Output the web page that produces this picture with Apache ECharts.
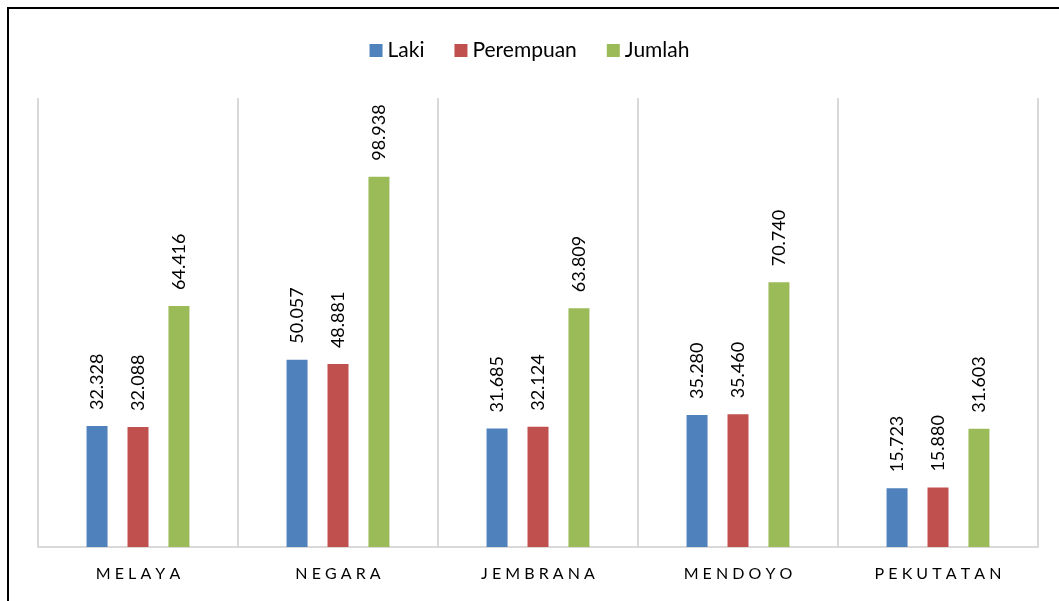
<!DOCTYPE html>
<html>
<head>
<meta charset="utf-8">
<script src="https://cdn.jsdelivr.net/npm/echarts@6/dist/echarts.min.js"></script>
<style>
  html, body { margin: 0; padding: 0; background: #fff; }
  #chart { width: 1059px; height: 601px; }
</style>
</head>
<body>
<div id="chart"></div>
<script>
// data
var kecamatan = ['MELAYA', 'NEGARA', 'JEMBRANA', 'MENDOYO', 'PEKUTATAN'];
var laki = [32.328, 50.057, 31.685, 35.280, 15.723];
var perempuan = [32.088, 48.881, 32.124, 35.460, 15.880];
var jumlah = [64.416, 98.938, 63.809, 70.740, 31.603];

var fontName = 'Lato, "Open Sans", sans-serif';

function barLabel() {
  return {
    show: true,
    position: 'top',
    rotate: 90,
    align: 'left',
    verticalAlign: 'middle',
    distance: 16,
    color: '#000',
    fontSize: 18,
    fontFamily: fontName,
    formatter: function (p) {
      return p.value.toFixed(3);
    }
  };
}

var chart = echarts.init(document.getElementById('chart'));
var option = {
  backgroundColor: '#fff',
  animation: false,
  graphic: [{
    type: 'rect',
    shape: { x: 8, y: 8, width: 1200, height: 800 },
    style: { fill: 'none', stroke: '#000', lineWidth: 2 },
    silent: true
  }],
  legend: {
    top: 35,
    left: 'center',
    itemWidth: 13,
    itemHeight: 13,
    itemGap: 30,
    icon: 'rect',
    textStyle: { color: '#000', fontSize: 21, fontFamily: fontName },
    data: ['Laki', 'Perempuan', 'Jumlah']
  },
  grid: { left: 38, top: 98, width: 1000, height: 449 },
  xAxis: {
    type: 'category',
    data: kecamatan,
    axisLine: { lineStyle: { color: '#d9d9d9', width: 2 } },
    axisTick: { show: false },
    splitLine: { show: true, lineStyle: { color: '#d9d9d9', width: 2 } },
    axisLabel: {
      color: '#000',
      fontSize: 16,
      fontFamily: fontName,
      margin: 19,
      formatter: function (v) { return v.split('').join(' '); }
    }
  },
  yAxis: {
    type: 'value',
    min: 0,
    max: 120,
    show: false
  },
  series: [
    { name: 'Laki', type: 'bar', data: laki, barWidth: 21, barGap: '95%',
      itemStyle: { color: '#4f81bd' }, label: barLabel() },
    { name: 'Perempuan', type: 'bar', data: perempuan, barWidth: 21, barGap: '95%',
      itemStyle: { color: '#c0504d' }, label: barLabel() },
    { name: 'Jumlah', type: 'bar', data: jumlah, barWidth: 21, barGap: '95%',
      itemStyle: { color: '#9bbb59' }, label: barLabel() }
  ]
};
chart.setOption(option);
</script>
</body>
</html>
